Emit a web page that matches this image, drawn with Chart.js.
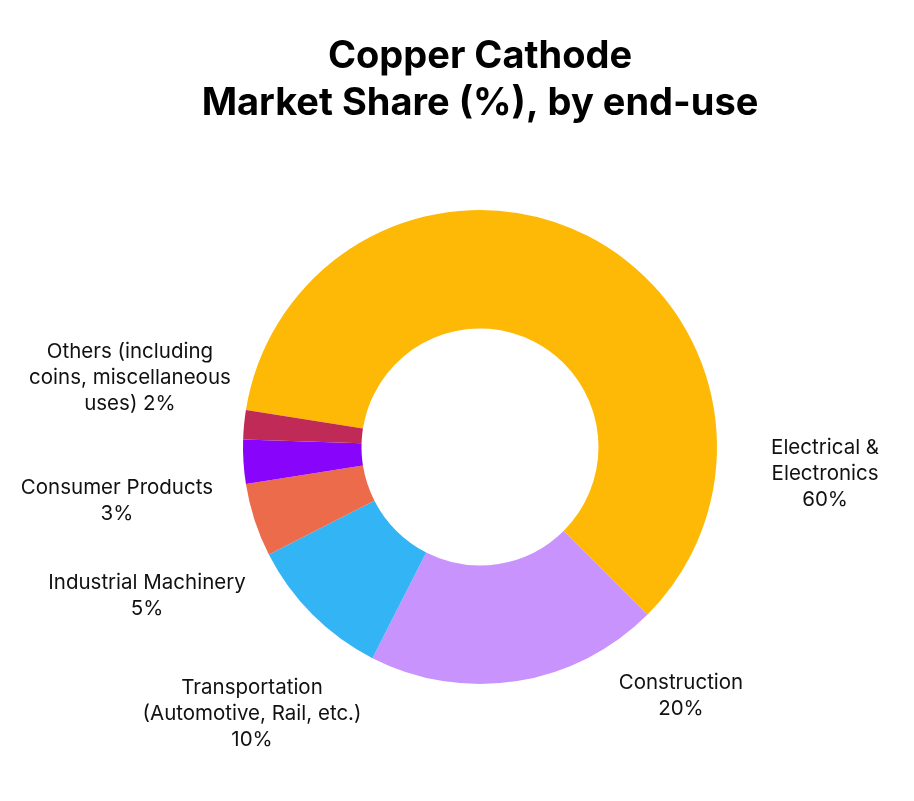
<!DOCTYPE html>
<html>
<head>
<meta charset="utf-8">
<script src="https://cdn.jsdelivr.net/npm/chart.js@4.4.1/dist/chart.umd.min.js"></script>
<style>
  html, body { margin: 0; padding: 0; background: #fff; }
  #wrap { width: 914px; height: 801px; }
</style>
</head>
<body>
<div id="wrap"><canvas id="myChart"></canvas></div>
<script>
// chart data
const categories = [
  "Electrical & Electronics",
  "Construction",
  "Transportation (Automotive, Rail, etc.)",
  "Industrial Machinery",
  "Consumer Products",
  "Others (including coins, miscellaneous uses)",
];
const shares = [60, 20, 10, 5, 3, 2];
const labelLines = [
  ["Electrical &", "Electronics", "60%"],
  ["Construction", "20%"],
  ["Transportation", "(Automotive, Rail, etc.)", "10%"],
  ["Industrial Machinery", "5%"],
  ["Consumer Products", "3%"],
  ["Others (including", "coins, miscellaneous", "uses) 2%"],
];
const sliceColors = ["#FDB905", "#C893FD", "#33B4F5", "#EC6B4B", "#8804FB", "#BF2A57"];

// where each label block sits, relative to the centre, in outer radii
const labelOffsets = [
  [1.456, 0.114],
  [0.848, 1.049],
  [-0.962, 1.127],
  [-1.405, 0.629],
  [-1.532, 0.226],
  [-1.477, -0.291],
];

//draw the outside labels
const outsideLabels = {
  id: "outsideLabels",
  afterDraw(chart) {
    const arc = chart.getDatasetMeta(0).data[0];
    const cx = arc.x;
    const cy = arc.y;
    const r = arc.outerRadius;
    const ctx = chart.ctx;
    const lineH = 25.8;
    ctx.save();
    ctx.font = "20.5px Inter";
    ctx.fillStyle = "#111111";
    ctx.textAlign = "center";
    ctx.textBaseline = "middle";
    labelLines.forEach((lines, i) => {
      const x = cx + labelOffsets[i][0] * r;
      const y = cy + labelOffsets[i][1] * r;
      const top = y - ((lines.length - 1) * lineH) / 2;
      lines.forEach((line, j) => {
        ctx.fillText(line, x, top + j * lineH);
      });
    });
    ctx.restore();
  },
};

const ctx = document.getElementById("myChart");
const myChart = new Chart(ctx, {
  type: "doughnut",
  data: {
    labels: categories,
    datasets: [
      {
        data: shares,
        backgroundColor: sliceColors,
        borderWidth: 0,
      },
    ],
  },
  options: {
    responsive: true,
    maintainAspectRatio: false,
    animation: false,
    rotation: -81,
    cutout: "50%",
    events: [],
    layout: {
      padding: { top: 0, bottom: 117, left: 100, right: 54 },
    },
    plugins: {
      legend: { display: false },
      tooltip: { enabled: false },
      title: {
        display: true,
        text: ["Copper Cathode", "Market Share (%), by end-use"],
        color: "#000000",
        font: { family: "Inter", size: 38, weight: "bold", lineHeight: 1.237 },
        padding: { top: 33.5, bottom: 82.5 },
      },
    },
  },
  plugins: [outsideLabels],
});
</script>
</body>
</html>
